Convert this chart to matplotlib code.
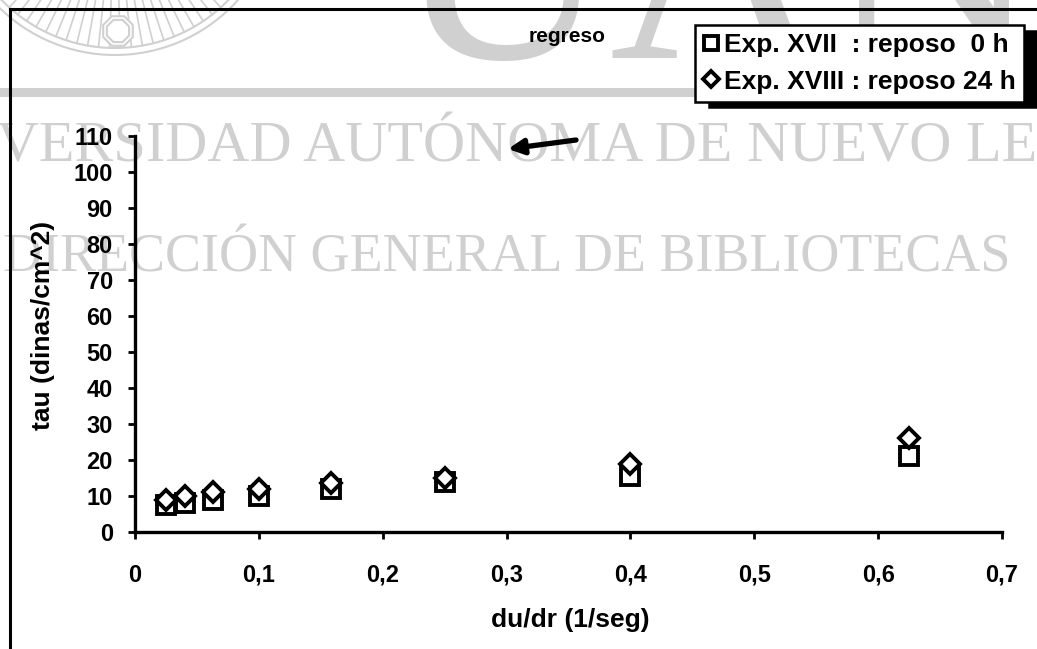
import matplotlib
matplotlib.use("Agg")
import matplotlib.pyplot as plt
import numpy as np
from matplotlib.lines import Line2D
from matplotlib.patches import Ellipse, Polygon

# ---- data -------------------------------------------------------------
shear_rate = [0.025, 0.04, 0.063, 0.1, 0.158, 0.25, 0.4, 0.625]      # du/dr (1/seg)
tau_exp_xvii = [7.5, 8, 9, 10, 12, 14, 15.5, 21]                    # reposo 0 h
tau_exp_xviii = [9, 10, 11, 12, 13.5, 15, 19, 26]                   # reposo 24 h

series_labels = ["Exp. XVII  : reposo  0 h", "Exp. XVIII : reposo 24 h"]
x_ticks = [0, 0.1, 0.2, 0.3, 0.4, 0.5, 0.6, 0.7]
x_tick_labels = ["0", "0,1", "0,2", "0,3", "0,4", "0,5", "0,6", "0,7"]
y_ticks = [0, 10, 20, 30, 40, 50, 60, 70, 80, 90, 100, 110]

title_text = "regreso"
x_label = "du/dr (1/seg)"
y_label = "tau (dinas/cm^2)"
wm_line1 = "UNIVERSIDAD AUTÓNOMA DE NUEVO LEÓN"
wm_line2 = "DIRECCIÓN GENERAL DE BIBLIOTECAS"
wm_logo = "UANL"

# ---- figure -----------------------------------------------------------
W, H = 1037, 649
plt.rcParams["font.family"] = ["Liberation Sans", "DejaVu Sans"]
plt.rcParams["font.weight"] = "bold"
fig = plt.figure(figsize=(W / 100, H / 100), dpi=100)
fig.patch.set_facecolor("white")


def fx(px):
    return px / W


def fy(py):
    return 1 - py / H


WM = "#d0d0d0"
SERIF = ["Liberation Serif", "DejaVu Serif"]
renderer = fig.canvas.get_renderer()


def text_width(s, size):
    t = fig.text(0, 0, s, fontsize=size, family=SERIF, fontweight="normal")
    w = t.get_window_extent(renderer=renderer).width
    t.remove()
    return w


def watermark_line(full, prefix, visible, left_px, baseline_px, width_px):
    size = 40 * width_px / text_width(visible, 40)
    x0 = left_px - text_width(prefix, size) if prefix else left_px
    fig.text(fx(x0), fy(baseline_px), full, fontsize=size, family=SERIF,
             fontweight="normal", color=WM, ha="left", va="baseline", zorder=-2)


# background watermark: seal, logo letters, band and library text
seal_c = (115, -110)
for r in (158, 165):
    fig.add_artist(Ellipse((fx(seal_c[0]), fy(seal_c[1])), 2 * r / W, 2 * r / H,
                           transform=fig.transFigure, fill=False, ec=WM, lw=1.5, zorder=-2))
for ang in np.arange(196, 345, 4):
    a = np.deg2rad(ang)
    xs = [seal_c[0] + 108 * np.cos(a), seal_c[0] + 158 * np.cos(a)]
    ys = [seal_c[1] - 108 * np.sin(a), seal_c[1] - 158 * np.sin(a)]
    fig.add_artist(Line2D([fx(v) for v in xs], [fy(v) for v in ys],
                          transform=fig.transFigure, color=WM, lw=1.2, zorder=-2))
for rr in (16, 12):
    oct_pts = [(fx(118 + rr * np.cos(t)), fy(31 + rr * np.sin(t)))
               for t in np.deg2rad(np.arange(22.5, 360, 45))]
    fig.add_artist(Polygon(oct_pts, closed=True, transform=fig.transFigure,
                           fc="white", ec=WM, lw=1.5, zorder=-2))

fig.text(fx(395), fy(58), wm_logo, fontsize=215, family=SERIF, fontweight="normal",
         color=WM, ha="left", va="baseline", zorder=-2)
fig.add_artist(Line2D([0, 1], [fy(92), fy(92)], transform=fig.transFigure,
                      color=WM, lw=6.5, zorder=-2))
watermark_line(wm_line1, "UNI", "VERSIDAD AUTÓNOMA DE NUEVO LE", -3, 162, 1040)
watermark_line(wm_line2, "", wm_line2, 3, 271, 1008)

# ---- axes -------------------------------------------------------------
ax = fig.add_axes([fx(135), fy(532), fx(1002) - fx(135), fy(136) - fy(532)])
ax.patch.set_alpha(0)

ax.plot(shear_rate, tau_exp_xvii, ls="none", marker="s", ms=13, mfc="white",
        mec="black", mew=2.8, label=series_labels[0], zorder=3, clip_on=False)
ax.plot(shear_rate, tau_exp_xviii, ls="none", marker="D", ms=10.5, mfc="white",
        mec="black", mew=2.8, label=series_labels[1], zorder=4, clip_on=False)

ax.set_xlim(0, 0.7)
ax.set_ylim(0, 110)
ax.set_xticks(x_ticks)
ax.set_xticklabels(x_tick_labels)
ax.set_yticks(y_ticks)

for side in ("top", "right"):
    ax.spines[side].set_visible(False)
for side in ("left", "bottom"):
    ax.spines[side].set_linewidth(2.4)

ax.tick_params(axis="both", direction="out", length=5, width=2, labelsize=17)
ax.tick_params(axis="x", pad=18)
ax.tick_params(axis="y", pad=11)

ax.set_xlabel(x_label, fontsize=19, fontweight="bold")
ax.set_ylabel(y_label, fontsize=19, fontweight="bold")
ax.xaxis.set_label_coords((570 - 135) / 867, (532 - 620) / 396)
ax.yaxis.set_label_coords((43 - 135) / 867, (532 - 325) / 396)
ax.xaxis.label.set_va("center")
ax.yaxis.label.set_va("center")

fig.text(fx(567), fy(36), title_text, ha="center", va="center", fontsize=15,
         fontweight="bold")

leg = ax.legend(loc="upper right", bbox_to_anchor=(fx(1024), fy(25)),
                bbox_transform=fig.transFigure, frameon=True, fancybox=False,
                edgecolor="black", framealpha=1, borderpad=0.3,
                handlelength=0.6, handletextpad=0.2, labelspacing=0.48,
                borderaxespad=0, markerscale=0.8,
                prop={"size": 19, "weight": "bold"},
                shadow={"color": "black", "alpha": 1, "ox": 10, "oy": -4})
leg.get_frame().set_linewidth(1.8)

ax.annotate("", xy=(fx(508), fy(149)), xytext=(fx(576), fy(140)),
            xycoords="figure fraction", textcoords="figure fraction",
            annotation_clip=False,
            arrowprops=dict(arrowstyle="-|>,head_length=0.9,head_width=0.45",
                            color="black", lw=3.8, shrinkA=0, shrinkB=0))

# page frame
fig.add_artist(Line2D([fx(10), fx(10)], [fy(9), 0], transform=fig.transFigure,
                      color="black", lw=2.2))
fig.add_artist(Line2D([fx(10), 1], [fy(9), fy(9)], transform=fig.transFigure,
                      color="black", lw=2.2))

fig.savefig("out.png", dpi=100)
